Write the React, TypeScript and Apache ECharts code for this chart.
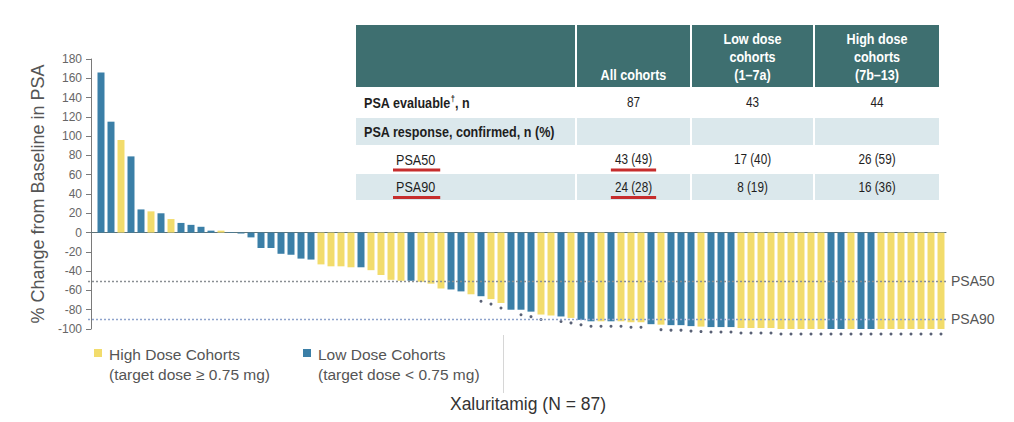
import React, { useEffect, useRef } from 'react';
import * as echarts from 'echarts';

// Best PSA change from baseline per patient, sorted (waterfall order)
const psaChange = [
  166, 115, 96, 79, 24, 22, 20, 14, 10, 8,
  6, 2, 2, 0.5, -1, -5, -16, -16, -22, -23,
  -27, -28, -33, -35, -35, -36, -36, -39, -44, -49,
  -50, -50, -51, -53, -58, -59, -61, -64, -66, -69,
  -73, -80, -80, -82, -85, -86, -87, -88.5, -90.5, -92,
  -92, -92, -92, -93, -93, -95, -95.5, -96, -96, -97,
  -97.5, -98, -98, -98, -99, -99, -99, -99, -100, -100,
  -100, -100, -100, -100, -100, -100, -100, -100, -100, -100,
  -100, -100, -100, -100, -100,
];

// Dose cohort per bar: H = high dose, L = low dose
const cohort = [
  'L', 'L', 'H', 'L', 'L', 'H', 'L', 'H', 'L', 'L',
  'L', 'L', 'H', 'L', 'L', 'L', 'L', 'L', 'L', 'L',
  'L', 'L', 'H', 'H', 'H', 'H', 'L', 'H', 'H', 'H',
  'H', 'L', 'H', 'H', 'H', 'L', 'L', 'H', 'L', 'H',
  'H', 'L', 'L', 'L', 'H', 'H', 'L', 'H', 'L', 'L',
  'H', 'L', 'H', 'H', 'H', 'L', 'H', 'L', 'L', 'L',
  'H', 'L', 'L', 'L', 'H', 'H', 'H', 'H', 'H', 'H',
  'H', 'H', 'H', 'L', 'L', 'H', 'L', 'L', 'H', 'H',
  'H', 'H', 'H', 'H', 'H',
];

// Bars (1-based) flagged with a marker dot below the bar
const markedBars = [
  39, 40, 41, 43, 44, 45, 47, 48, 49, 50, 51, 52, 53, 54, 55,
  57, 58, 59, 60, 61, 62, 63, 64, 65, 66, 67, 68, 69, 70, 71,
  72, 73, 74, 75, 76, 77, 78, 79, 80, 81, 82, 83, 84, 85,
];

const thresholds = [
  { name: 'PSA50', value: -50 },
  { name: 'PSA90', value: -90 },
];

const legendNames = ['High Dose Cohorts', 'Low Dose Cohorts'];
const legendNotes = ['(target dose \u2265 0.75 mg)', '(target dose < 0.75 mg)'];

// Summary table
const tableHeaders = ['', 'All cohorts', 'Low dose\ncohorts\n(1\u20137a)', 'High dose\ncohorts\n(7b\u201313)'];
const rowLabels = ['PSA evaluable{sup|\u2020}, n', 'PSA response, confirmed, n (%)', 'PSA50', 'PSA90'];
const allCohorts = ['87', '', '43 (49)', '24 (28)'];
const lowDose = ['43', '', '17 (40)', '8 (19)'];
const highDose = ['44', '', '26 (59)', '16 (36)'];

const YELLOW = '#f2dc6c';
const BLUE = '#3b7fa7';
const TEAL = '#3e6f70';
const SHADE = '#dbe8ec';
const RED = '#c62d2d';
const FONT = "'Liberation Sans', Arial, Helvetica, sans-serif";
// condensed look for the table text
const SQUEEZE = 0.84;

function measure(text: string, font: string): number {
  const ctx = document.createElement('canvas').getContext('2d');
  if (!ctx) return text.length * 7;
  ctx.font = font;
  return ctx.measureText(text).width;
}

function buildTable(): any[] {
  const cols: [number, number][] = [[356, 575], [577, 690], [692, 813], [815, 939]];
  const headerTop = 25;
  const headerBottom = 87;
  const rows: [number, number][] = [[88, 117], [118, 145], [146, 173], [174, 200]];
  const indent = [364, 364, 396, 396];
  const els: any[] = [];

  cols.forEach(([x0, x1], c) => {
    els.push({
      type: 'rect',
      shape: { x: x0, y: headerTop, width: x1 - x0, height: headerBottom - headerTop },
      style: { fill: TEAL },
    });
    if (tableHeaders[c]) {
      els.push({
        type: 'text',
        x: (x0 + x1) / 2,
        y: headerBottom - 3,
        scaleX: SQUEEZE,
        style: {
          text: tableHeaders[c],
          align: 'center',
          verticalAlign: 'bottom',
          lineHeight: 18,
          fill: '#ffffff',
          fontFamily: FONT,
          fontSize: 15,
          fontWeight: 'bold',
        },
      });
    }
  });

  const columns = [allCohorts, lowDose, highDose];
  rows.forEach(([y0, y1], r) => {
    const cy = (y0 + y1) / 2;
    if (r % 2 === 1) {
      cols.forEach(([x0, x1]) => {
        els.push({
          type: 'rect',
          shape: { x: x0, y: y0, width: x1 - x0, height: y1 - y0 },
          style: { fill: SHADE },
        });
      });
    }
    const bold = r < 2;
    const labelFont = `${bold ? 'bold ' : ''}15px ${FONT}`;
    els.push({
      type: 'text',
      x: indent[r],
      y: cy,
      scaleX: SQUEEZE,
      style: {
        text: rowLabels[r],
        align: 'left',
        verticalAlign: 'middle',
        fill: '#1e1e1e',
        fontFamily: FONT,
        fontSize: 15,
        fontWeight: bold ? 'bold' : 'normal',
        rich: {
          sup: { fontSize: 9, fontFamily: FONT, fontWeight: 'bold', fill: '#1e1e1e', padding: [0, 0, 7, 0] },
        },
      },
    });
    columns.forEach((col, c) => {
      const txt = col[r];
      if (!txt) return;
      const cx = (cols[c + 1][0] + cols[c + 1][1]) / 2;
      els.push({
        type: 'text',
        x: cx,
        y: cy,
        scaleX: SQUEEZE,
        style: {
          text: txt,
          align: 'center',
          verticalAlign: 'middle',
          fill: '#1e1e1e',
          fontFamily: FONT,
          fontSize: 14,
        },
      });
      if (r >= 2 && c === 0) {
        const w = measure(txt, `14px ${FONT}`) * SQUEEZE + 8;
        els.push({
          type: 'rect',
          shape: { x: cx - w / 2, y: cy + 9, width: w, height: 3 },
          style: { fill: RED },
        });
      }
    });
    if (r >= 2) {
      const w = measure(rowLabels[r], labelFont) * SQUEEZE + 8;
      els.push({
        type: 'rect',
        shape: { x: indent[r] - 3, y: cy + 9, width: w, height: 3 },
        style: { fill: RED },
      });
    }
  });
  return els;
}

function buildLegend(): any[] {
  const xs = [94, 303];
  const colors = [YELLOW, BLUE];
  const els: any[] = [];
  legendNames.forEach((name, i) => {
    els.push({
      type: 'rect',
      shape: { x: xs[i], y: 349, width: 8, height: 8 },
      style: { fill: colors[i] },
    });
    els.push({
      type: 'text',
      x: xs[i] + 15,
      y: 354,
      style: { text: name, fill: '#555', fontFamily: FONT, fontSize: 15.5, verticalAlign: 'middle' },
    });
    els.push({
      type: 'text',
      x: xs[i] + 15,
      y: 374,
      style: { text: legendNotes[i], fill: '#555', fontFamily: FONT, fontSize: 15.5, verticalAlign: 'middle' },
    });
  });
  return els;
}

export default function App() {
  const ref = useRef<HTMLDivElement>(null);

  useEffect(() => {
    document.body.style.margin = '0';
    if (!ref.current) return;
    const chart = echarts.init(ref.current, undefined, { renderer: 'svg' });

    const barData = psaChange.map((v, i) => ({
      value: [i + 1, v],
      itemStyle: { color: cohort[i] === 'H' ? YELLOW : BLUE },
    }));
    const dotData = markedBars.map((b) => [b, psaChange[b - 1]]);

    chart.setOption({
      animation: false,
      backgroundColor: '#ffffff',
      textStyle: { fontFamily: FONT },
      grid: { left: 88, right: 68, top: 59, bottom: 93 },
      xAxis: {
        type: 'value',
        min: -0.3,
        max: 85.5,
        axisLine: { show: true, onZero: true, lineStyle: { color: '#5f7479', width: 1 } },
        axisTick: { show: false },
        axisLabel: { show: false },
        splitLine: { show: false },
      },
      yAxis: {
        type: 'value',
        min: -100,
        max: 180,
        interval: 20,
        name: '% Change from Baseline in PSA',
        nameLocation: 'middle',
        nameGap: 39,
        nameTextStyle: { fontSize: 18, color: '#555', fontFamily: FONT },
        axisLine: { show: true, lineStyle: { color: '#7a7a7a' } },
        axisTick: { show: true, length: 5, lineStyle: { color: '#7a7a7a' } },
        axisLabel: { color: '#666', fontSize: 12, margin: 6, fontFamily: FONT },
        splitLine: { show: false },
      },
      series: [
        {
          type: 'bar',
          data: barData,
          barWidth: 7,
          markLine: {
            silent: true,
            symbol: 'none',
            lineStyle: { type: [2, 2], width: 1.3 },
            label: { position: 'end', color: '#555', fontSize: 14, distance: 5, fontFamily: FONT },
            data: thresholds.map((t, i) => ({
              yAxis: t.value,
              lineStyle: { color: i === 0 ? '#8a8f94' : '#8ea3cc' },
              label: { formatter: t.name },
            })),
          },
        },
        {
          type: 'scatter',
          data: dotData,
          symbolSize: 3,
          symbolOffset: [0, 5],
          itemStyle: { color: '#2f3a52' },
          z: 3,
        },
      ],
      graphic: [
        ...buildTable(),
        ...buildLegend(),
        {
          type: 'line',
          shape: { x1: 503.5, y1: 335, x2: 503.5, y2: 393 },
          style: { stroke: '#d6d6d6', lineWidth: 1 },
        },
        {
          type: 'text',
          x: 528,
          y: 404,
          style: {
            text: 'Xaluritamig (N = 87)',
            align: 'center',
            verticalAlign: 'middle',
            fill: '#333',
            fontFamily: FONT,
            fontSize: 17.5,
          },
        },
      ],
    });

    return () => chart.dispose();
  }, []);

  return <div ref={ref} style={{ width: 1014, height: 422 }} />;
}
